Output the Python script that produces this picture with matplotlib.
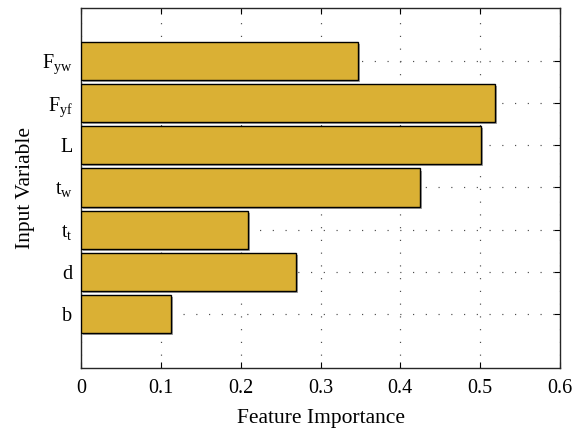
# feature importance of the input variables, horizontal bars

import matplotlib
matplotlib.use("Agg")
import matplotlib.pyplot as plt
import matplotlib.patheffects as pe

plt.rcParams['font.family'] = ['Liberation Serif', 'DejaVu Serif']
plt.rcParams['mathtext.fontset'] = 'custom'
plt.rcParams['mathtext.rm'] = 'Liberation Serif'
plt.rcParams['mathtext.it'] = 'Liberation Serif'

variables = ['b', 'd', r'$\mathrm{t_t}$', r'$\mathrm{t_w}$', 'L',
             r'$\mathrm{F_{yf}}$', r'$\mathrm{F_{yw}}$']
importance = [0.113, 0.269, 0.209, 0.425, 0.501, 0.519, 0.347]
x_ticks = [0, 0.1, 0.2, 0.3, 0.4, 0.5, 0.6]
x_tick_labels = ['0', '0.1', '0.2', '0.3', '0.4', '0.5', '0.6']

fig = plt.figure(figsize=(5.78, 4.30), dpi=100)
ax = fig.add_axes([0.140, 0.144, 0.829, 0.837])

pos = list(range(1, len(variables) + 1))
bars = ax.barh(pos, importance, height=0.9, color='#dab034',
               edgecolor='black', linewidth=1.0, zorder=3)
for b in bars:
    b.set_path_effects([pe.SimplePatchShadow(offset=(1.5, -1.5), shadow_rgbFace='0.55', alpha=0.8),
                        pe.Normal()])

ax.set_xlim(0, 0.6)
ax.set_ylim(-0.27, 8.24)
ax.set_xticks(x_ticks)
ax.set_xticklabels(x_tick_labels)
ax.set_yticks(pos)
ax.set_yticklabels(variables)

ax.grid(True, color='0.3', linestyle=(0, (1, 9.8)), linewidth=0.85, zorder=0)
ax.set_axisbelow(True)
ax.tick_params(direction='in', top=True, right=True, length=4, width=0.8, labelsize=14.5)
ax.tick_params(axis='x', pad=8)
ax.tick_params(axis='y', pad=6)
for s in ax.spines.values():
    s.set_linewidth(1.0)
    s.set_color('0.15')

ax.set_xlabel("Feature Importance", fontsize=15.5, labelpad=8)
ax.set_ylabel("Input Variable", fontsize=15.5, labelpad=5)

fig.savefig("out.png", dpi=100)
